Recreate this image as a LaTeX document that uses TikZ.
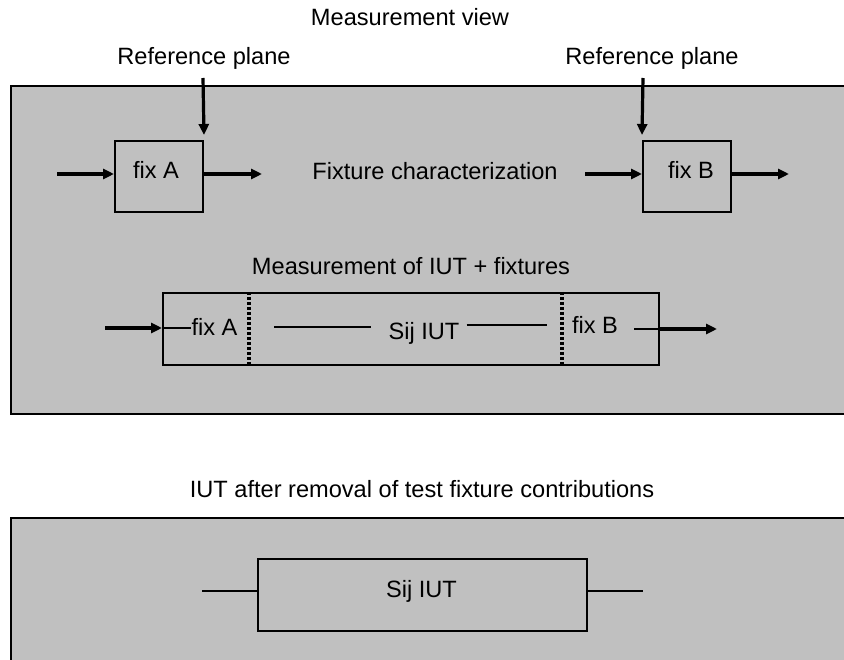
\documentclass[tikz,border=0pt]{standalone}
\usepackage{fontspec}
\setmainfont{Liberation Sans}
\usetikzlibrary{arrows.meta}
\definecolor{panelgray}{HTML}{C0C0C0}
\begin{document}
\begin{tikzpicture}[x=1pt,y=-1pt,
  border/.style={line width=2.2pt},
  fixbox/.style={draw, line width=2pt, minimum width=88pt, minimum height=71pt, inner sep=0pt},
  lbl/.style={font=\fontsize{23.6}{28}\selectfont, inner sep=0pt, anchor=base},
  sig/.style={line width=3.2pt, -{Triangle[length=11pt,width=10pt]}},
  wire/.style={line width=1.8pt},
  refline/.style={line width=3.6pt, dash pattern=on 3pt off 2pt}]
\useasboundingbox (0,0) rectangle (844,660);

% panels (open to the right and bottom)
\fill[panelgray] (11,86) rectangle (860,414);
\draw[border] (860,86) -- (11,86) -- (11,414) -- (860,414);
\fill[panelgray] (11,518) rectangle (860,670);
\draw[border] (860,518) -- (11,518) -- (11,670);

% titles
\node[lbl] (title)   at (410,26)  {Measurement view};
\node[lbl] (refA)    at (204,65)  {Reference plane};
\node[lbl] (refB)    at (652,65)  {Reference plane};
\node[lbl] (fixchar) at (435,180) {Fixture characterization};
\node[lbl] (meastit) at (411,275) {Measurement of IUT + fixtures};
\node[lbl] (after)   at (422,497) {IUT after removal of test fixture contributions};

% fixture characterization
\node[fixbox] (fixA) at (159,176.5) {};
\node[fixbox] (fixB) at (687,176.5) {};
\node[lbl] (fixAtxt) at (156,179) {fix A};
\node[lbl] (fixBtxt) at (691,179) {fix B};

\coordinate (rpA) at (203,78);
\coordinate (rpB) at (643,78);
\draw[sig] (rpA) -- ([yshift=5pt]fixA.north east);
\draw[sig] (rpB) -- ([yshift=5pt]fixB.north west);

\coordinate (inA)  at (57,174);
\coordinate (outA) at (262,174);
\coordinate (inB)  at (585,174);
\coordinate (outB) at (789,174);
\draw[sig] (inA) -- (inA -| fixA.west);
\draw[sig] (fixA.east |- outA) -- (outA);
\draw[sig] (inB) -- (inB -| fixB.west);
\draw[sig] (fixB.east |- outB) -- (outB);

% IUT measured together with the fixtures
\node[draw, line width=2pt, minimum width=496pt, minimum height=72pt, inner sep=0pt]
  (meas) at (411,329) {};
\draw[refline] ([xshift=87pt]meas.north west) -- ([xshift=87pt]meas.south west);
\draw[refline] ([xshift=400pt]meas.north west) -- ([xshift=400pt]meas.south west);
\node[lbl] (mfixA) at (214.5,336) {fix A};
\node[lbl] (msij)  at (424,340)   {Sij IUT};
\node[lbl] (mfixB) at (595,334)   {fix B};

\coordinate (min)  at (105,328);
\coordinate (mout) at (717,329);
\draw[sig]  (min) -- (min -| meas.west);
\draw[wire] (min -| meas.west) -- (mfixA.west |- min);
\draw[wire] (274,327) -- ([xshift=-17pt]msij.west |- 0,327);
\draw[wire] ([xshift=7pt]msij.east |- 0,325) -- (547,325);
\draw[wire] (634,329) -- (mout -| meas.east);
\draw[sig]  (mout -| meas.east) -- (mout);

% IUT alone
\node[draw, line width=2pt, minimum width=329pt, minimum height=72pt, inner sep=0pt]
  (iut) at (422.5,595) {};
\node[lbl] (iuttxt) at (421.5,597) {Sij IUT};
\coordinate (iutin)  at (202,591);
\coordinate (iutout) at (643,591);
\draw[wire] (iutin) -- (iutin -| iut.west);
\draw[wire] (iut.east |- iutout) -- (iutout);
\end{tikzpicture}
\end{document}
